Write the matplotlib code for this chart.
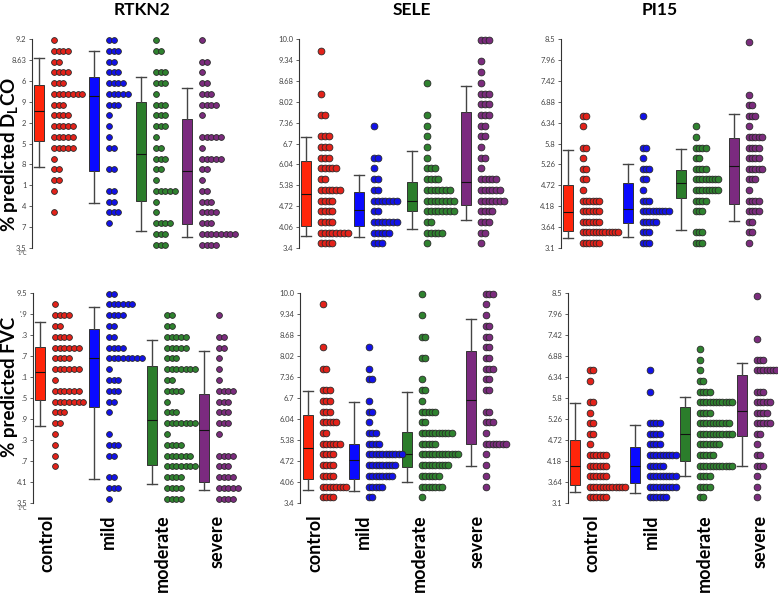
import numpy as np
import matplotlib.pyplot as plt

plt.rcParams['font.family'] = ['Lato', 'DejaVu Sans']
plt.rcParams['mathtext.fontset'] = 'custom'
plt.rcParams['mathtext.rm'] = 'Lato:bold'
plt.rcParams['mathtext.bf'] = 'Lato:bold'

groups = ['control', 'mild', 'moderate', 'severe']
genes = ['RTKN2', 'SELE', 'PI15']
box_colors = ['#ff250a', '#0a0aff', '#2b7d2b', '#7b2a7f']
dot_colors = ['#e3221a', '#1212e8', '#2f822f', '#7b2c7d']

# tick labels as they are printed (top to bottom), truncated like the original
rtkn2_dlco_ticklabels = ['9.2', '8.63', '6', '9', '2', '5', '8', '1', '4', '7', '3.5']
rtkn2_fvc_ticklabels = ['9.5', "'.9", '.3', '.7', '.1', '.5', '.9', '.3', '.7', '4.1', '3.5']
sele_ticklabels = ['10.0', '9.34', '8.68', '8.02', '7.36', '6.7', '6.04', '5.38', '4.72', '4.06', '3.4']
pi15_ticklabels = ['8.5', '7.96', '7.42', '6.88', '6.34', '5.8', '5.26', '4.72', '4.18', '3.64', '3.1']

# dot counts per bin, top bin first (20 bins), one list per group
rtkn2_dlco_counts = [
    [1, 4, 2, 4, 3, 7, 3, 4, 5, 5, 5, 1, 2, 2, 1, 0, 1, 0, 0, 0],
    [2, 3, 2, 3, 4, 5, 3, 1, 1, 1, 2, 0, 2, 0, 2, 2, 3, 1, 0, 0],
    [1, 2, 0, 3, 3, 1, 3, 3, 3, 1, 2, 3, 2, 1, 5, 1, 1, 4, 3, 3],
    [1, 0, 2, 1, 2, 3, 4, 1, 0, 5, 1, 5, 2, 1, 2, 3, 4, 3, 8, 4],
]
sele_dlco_counts = [
    [0, 1, 0, 0, 0, 1, 0, 2, 0, 3, 3, 3, 5, 2, 6, 4, 4, 4, 8, 4],
    [0, 0, 0, 0, 0, 0, 0, 0, 1, 0, 0, 2, 1, 2, 2, 7, 2, 7, 5, 3],
    [0, 0, 0, 0, 1, 0, 0, 1, 1, 1, 1, 1, 3, 4, 7, 8, 8, 2, 5, 1],
    [3, 0, 1, 1, 1, 3, 3, 3, 2, 2, 1, 2, 1, 5, 6, 7, 4, 3, 2, 1],
]
pi15_dlco_counts = [
    [0, 0, 0, 0, 0, 0, 0, 2, 1, 0, 2, 1, 2, 2, 1, 6, 6, 6, 12, 6],
    [0, 0, 0, 0, 0, 0, 0, 1, 0, 0, 2, 1, 3, 2, 1, 3, 9, 5, 3, 3],
    [0, 0, 0, 0, 0, 0, 0, 0, 1, 1, 4, 2, 4, 8, 8, 4, 3, 0, 3, 3],
    [1, 0, 0, 0, 0, 1, 2, 3, 1, 5, 4, 4, 5, 3, 1, 4, 4, 2, 2, 1],
]
rtkn2_fvc_counts = [
    [0, 1, 4, 2, 4, 6, 4, 6, 1, 6, 7, 3, 2, 1, 1, 1, 1, 0, 0, 0],
    [2, 6, 4, 2, 2, 4, 8, 1, 3, 3, 2, 1, 0, 1, 3, 2, 0, 2, 3, 1],
    [0, 0, 2, 2, 5, 5, 3, 7, 2, 4, 1, 3, 7, 1, 4, 6, 7, 4, 4, 4],
    [0, 0, 1, 0, 2, 2, 1, 1, 1, 4, 3, 3, 3, 1, 0, 4, 3, 4, 5, 4],
]
sele_fvc_counts = [
    [0, 1, 0, 0, 0, 1, 0, 2, 0, 3, 3, 3, 5, 2, 6, 4, 4, 4, 8, 4],
    [0, 0, 0, 0, 0, 1, 0, 1, 2, 0, 1, 2, 1, 3, 4, 11, 9, 8, 5, 2],
    [1, 0, 1, 0, 2, 0, 2, 0, 1, 2, 1, 5, 2, 10, 5, 12, 9, 6, 7, 1],
    [3, 1, 1, 2, 2, 2, 2, 3, 2, 2, 0, 2, 3, 1, 7, 1, 1, 1, 1, 0],
]
pi15_fvc_counts = [
    [0, 0, 0, 0, 0, 0, 0, 2, 1, 0, 2, 1, 2, 2, 1, 6, 6, 6, 12, 6],
    [0, 0, 0, 0, 0, 0, 0, 1, 0, 1, 0, 0, 4, 4, 4, 9, 5, 9, 9, 6],
    [0, 0, 0, 0, 0, 1, 1, 1, 2, 4, 11, 4, 10, 11, 7, 5, 11, 4, 4, 2],
    [1, 0, 0, 0, 1, 0, 3, 7, 0, 3, 5, 4, 5, 2, 1, 2, 3, 1, 1, 1],
]

# box stats per group: whisker low, q1, median, q3, whisker high
rtkn2_dlco_box = [[5.70, 6.42, 7.24, 7.94, 8.67], [4.73, 5.61, 7.65, 8.17, 8.88],
                  [3.97, 4.77, 6.07, 7.48, 8.17], [3.79, 4.16, 5.61, 7.02, 7.86]]
sele_dlco_box = [[3.77, 4.11, 5.12, 6.14, 6.92], [3.74, 4.08, 4.61, 5.16, 5.72],
                 [4.00, 4.57, 4.88, 5.50, 6.47], [4.29, 4.77, 5.48, 7.71, 8.53]]
pi15_dlco_box = [[3.35, 3.55, 4.04, 4.72, 5.64], [3.38, 3.74, 4.12, 4.79, 5.28],
                 [3.57, 4.40, 4.77, 5.11, 5.65], [3.81, 4.23, 5.23, 5.95, 6.56]]
rtkn2_fvc_box = [[5.71, 6.43, 7.23, 7.95, 8.68], [4.18, 6.23, 7.64, 8.47, 9.11],
                 [4.03, 4.58, 5.86, 7.41, 8.16], [3.88, 4.09, 5.60, 6.61, 7.85]]
sele_fvc_box = [[3.80, 4.14, 5.12, 6.16, 6.93], [3.79, 4.14, 4.74, 5.25, 6.56],
                [4.07, 4.52, 4.95, 5.63, 6.88], [4.55, 5.25, 6.63, 8.19, 9.19]]
pi15_fvc_box = [[3.38, 3.57, 4.04, 4.72, 5.66], [3.37, 3.61, 4.04, 4.53, 5.11],
                [3.80, 4.17, 4.88, 5.56, 5.83], [4.04, 4.83, 5.47, 6.38, 6.71]]

W, H = 778, 595
fig = plt.figure(figsize=(W / 100, H / 100), dpi=100)

# layout in pixels: spine x, axes top/bottom, box centres relative to spine
panels = [
    dict(row=0, spine=32, ylim=(3.5, 9.2), labels=rtkn2_dlco_ticklabels, bins=(9.173, 3.59),
         counts=rtkn2_dlco_counts, box=rtkn2_dlco_box, bx=[7, 62, 109, 155], step=4.7, dot=5.8),
    dict(row=0, spine=299, ylim=(3.4, 10.0), labels=sele_ticklabels, bins=(9.968, 3.547),
         counts=sele_dlco_counts, box=sele_dlco_box, bx=[7, 60, 113, 167], step=3.8, dot=6.8),
    dict(row=0, spine=561, ylim=(3.1, 8.5), labels=pi15_ticklabels, bins=(8.431, 3.229),
         counts=pi15_dlco_counts, box=pi15_dlco_box, bx=[7, 67, 120, 173], step=3.2, dot=6.7),
    dict(row=1, spine=33, ylim=(3.5, 9.5), labels=rtkn2_fvc_ticklabels, bins=(9.481, 3.624),
         counts=rtkn2_fvc_counts, box=rtkn2_fvc_box, bx=[7, 61, 119, 171], step=4.7, dot=5.8,
         lx=[14, 75, 129, 184]),
    dict(row=1, spine=300, ylim=(3.4, 10.0), labels=sele_ticklabels, bins=(9.979, 3.578),
         counts=sele_fvc_counts, box=sele_fvc_box, bx=[8, 54, 107, 171], step=3.3, dot=6.7,
         lx=[15, 63, 119, 177]),
    dict(row=1, spine=568, ylim=(3.1, 8.5), labels=pi15_ticklabels, bins=(8.415, 3.245),
         counts=pi15_fvc_counts, box=pi15_fvc_box, bx=[7, 67, 117, 174], step=3.2, dot=6.7,
         lx=[24, 83, 136, 192]),
]
row_top = [39, 293]
row_bot = [248, 503]

for p in panels:
    r = p['row']
    aw = min(235, W - p['spine'])
    ax = fig.add_axes([p['spine'] / W, 1 - row_bot[r] / H, aw / W, (row_bot[r] - row_top[r]) / H])
    ax.set_xlim(0, aw)
    ax.set_ylim(*p['ylim'])

    stats = []
    for b in p['box']:
        stats.append(dict(whislo=b[0], q1=b[1], med=b[2], q3=b[3], whishi=b[4], fliers=[]))
    bp = ax.bxp(stats, positions=p['bx'], widths=10, capwidths=10, patch_artist=True,
                showfliers=False, manage_ticks=False,
                boxprops=dict(linewidth=0.7, edgecolor='#333333'),
                medianprops=dict(color='#111111', linewidth=0.8),
                whiskerprops=dict(color='#444444', linewidth=1.0),
                capprops=dict(color='#444444', linewidth=1.0))
    for patch, c in zip(bp['boxes'], box_colors):
        patch.set_facecolor(c)

    levels = np.linspace(p['bins'][0], p['bins'][1], 20)
    ms = (p['dot'] * 0.72) ** 2
    for g, cnts in enumerate(p['counts']):
        xs, ys = [], []
        for lev, n in zip(levels, cnts):
            for k in range(n):
                xs.append(p['bx'][g] + 15 + k * p['step'])
                ys.append(lev)
        ax.scatter(xs, ys, s=ms, c=dot_colors[g], edgecolors='#2a2a2a', linewidths=0.6,
                   zorder=3, clip_on=False)

    ax.set_yticks(np.linspace(p['ylim'][1], p['ylim'][0], 11))
    ax.set_yticklabels(p['labels'])
    ax.tick_params(axis='y', labelsize=5.5, length=2.5, width=0.6, colors='#444444',
                   pad=1.5, direction='out')
    for s in ['top', 'right', 'bottom']:
        ax.spines[s].set_visible(False)
    ax.spines['left'].set_color('#333333')
    ax.spines['left'].set_linewidth(0.8)

    if r == 1:
        ax.set_xticks(p['lx'])
        ax.set_xticklabels(groups, rotation=90, fontsize=13, fontweight='bold', va='top')
        ax.tick_params(axis='x', length=0, pad=8.5)
    else:
        ax.set_xticks([])

for gene, x in zip(genes, [142, 412, 660]):
    fig.text(x / W, 1 - 10 / H, gene, ha='center', va='center', fontsize=12.5, fontweight='bold')

fig.text(10 / W, 1 - 155 / H, r'% predicted D$_{\rm L}$CO', rotation=90, ha='center',
         va='center', fontsize=13.5, fontweight='bold')
fig.text(10 / W, 1 - 387 / H, '% predicted FVC', rotation=90, ha='center',
         va='center', fontsize=13.5, fontweight='bold')

# small stray marks under the RTKN2 axes in the original
for y in [253.5, 508.5]:
    fig.text(22 / W, 1 - y / H, '1\u2103', family='DejaVu Sans', fontsize=4,
             color='#555555', ha='center', va='center')

fig.savefig('out.png', dpi=100, facecolor='white')
